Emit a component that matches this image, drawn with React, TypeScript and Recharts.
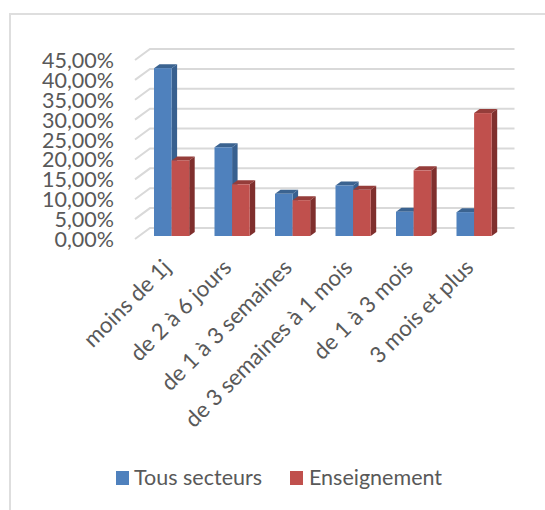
import React from "react";
import { BarChart, Bar, XAxis, YAxis, CartesianGrid, Legend } from "recharts";

const categories = ["moins de 1j", "de 2 à 6 jours", "de 1 à 3 semaines", "de 3 semaines à 1 mois", "de 1 à 3 mois", "3 mois et plus"];
const tousSecteurs = [42.2, 22.3, 10.6, 12.7, 6.1, 6.0];
const enseignement = [19.0, 13.0, 9.0, 11.6, 16.5, 30.9];
const yTicks = [0, 5, 10, 15, 20, 25, 30, 35, 40, 45];
const seriesNames = ["Tous secteurs", "Enseignement"];

const data = categories.map((c, i) => ({ c, a: tousSecteurs[i], b: enseignement[i] }));

const FONT = "Lato, Carlito, sans-serif";
const TXT = "#595959";
const GRID = "#d9d9d9";
const DX = 5.5;
const DY = 4;

const Box3D = (colors: { front: string; top: string; side: string }) => (p: any) => {
  const { x, y, width: w, height: h } = p;
  return (
    <g>
      <polygon points={`${x},${y} ${x + DX},${y - DY} ${x + w + DX},${y - DY} ${x + w},${y}`} fill={colors.top} />
      <polygon points={`${x + w},${y} ${x + w + DX},${y - DY} ${x + w + DX},${y + h - DY} ${x + w},${y + h}`} fill={colors.side} />
      <rect x={x} y={y} width={w} height={h} fill={colors.front} />
    </g>
  );
};

const GridLine = (p: any) => {
  const { y1, x2 } = p;
  return (
    <path
      d={`M135,${y1 + 3} L150,${y1 - 8} L${x2 + 10.5},${y1 - 8}`}
      fill="none"
      stroke={GRID}
      strokeWidth={2}
    />
  );
};

const XTick = (p: any) => (
  <text
    x={p.x + 1}
    y={p.y + 25}
    transform={`rotate(-45 ${p.x + 1} ${p.y + 25})`}
    textAnchor="end"
    fill={TXT}
    fontSize={22.3}
    fontFamily={FONT}
  >
    {p.payload.value}
  </text>
);

const YTick = (p: any) => (
  <text x={114} y={p.y + 11} textAnchor="end" fill={TXT} fontSize={21.5} fontFamily={FONT}>
    {p.payload.value.toFixed(2).replace(".", ",")}%
  </text>
);

const LegendContent = () => (
  <div style={{ position: "relative", width: 545, height: 30, fontFamily: FONT, fontSize: 21.5, color: TXT }}>
    <span style={{ position: "absolute", left: 116, top: 8, width: 13, height: 14, background: "#4F81BD" }} />
    <span style={{ position: "absolute", left: 134, top: 1, whiteSpace: "nowrap" }}>{seriesNames[0]}</span>
    <span style={{ position: "absolute", left: 290, top: 8, width: 13, height: 14, background: "#C0504D" }} />
    <span style={{ position: "absolute", left: 309, top: 1, whiteSpace: "nowrap" }}>{seriesNames[1]}</span>
  </div>
);

export default function App() {
  return (
    <div style={{ position: "absolute", left: 0, top: 0, width: 545, height: 510, background: "#fff", overflow: "hidden" }}>
      <div style={{ position: "absolute", left: 9, top: 13, width: 600, height: 600, border: "2px solid #dedede", boxSizing: "border-box" }} />
      <BarChart
        width={545}
        height={510}
        data={data}
        margin={{ top: 57, right: 41, bottom: 214, left: 101 }}
        barSize={17.6}
        barGap={0}
        style={{ position: "absolute", left: 0, top: 0 }}
      >
        <CartesianGrid vertical={false} horizontal={GridLine} />
        <XAxis dataKey="c" axisLine={false} tickLine={false} interval={0} tick={XTick} height={30} />
        <YAxis domain={[0, 45]} ticks={yTicks} interval={0} axisLine={false} tickLine={false} tick={YTick} width={40} />
        <Legend content={LegendContent} wrapperStyle={{ position: "absolute", left: 0, top: 463, width: 545, height: 30 }} />
        <Bar dataKey="a" name={seriesNames[0]} isAnimationActive={false} shape={Box3D({ front: "#4F81BD", top: "#3B6390", side: "#38608F" })} />
        <Bar dataKey="b" name={seriesNames[1]} isAnimationActive={false} shape={Box3D({ front: "#C0504D", top: "#953D3A", side: "#7F2F2D" })} />
      </BarChart>
    </div>
  );
}
